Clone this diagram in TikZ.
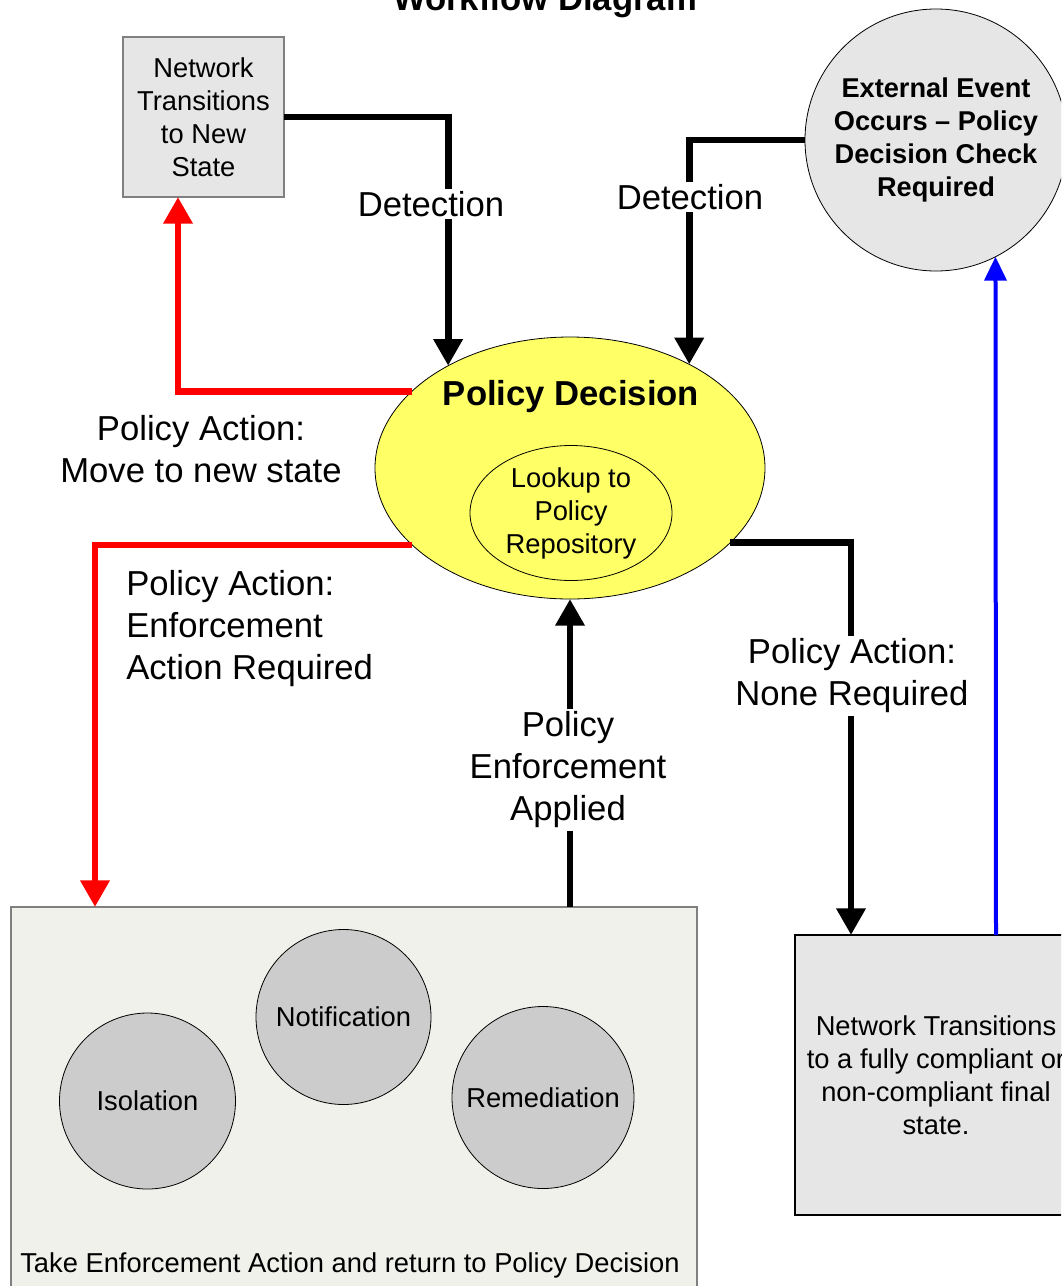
\documentclass[tikz,border=0pt]{standalone}
\usepackage{fontspec}
\setmainfont{Liberation Sans}
\usetikzlibrary{arrows.meta,shapes.geometric,calc}

\definecolor{boxgray}{HTML}{E6E6E6}
\definecolor{circgray}{HTML}{CCCCCC}
\definecolor{pdyellow}{HTML}{FFFF66}
\definecolor{actbg}{HTML}{F1F1EB}
\definecolor{edgegray}{HTML}{808080}

\tikzset{
  body/.style={font=\fontsize{20.5}{24.75}\selectfont, align=center},
  bodybold/.style={font=\bfseries\fontsize{20.4}{24.75}\selectfont, align=center},
  lbl/.style={font=\fontsize{26}{31.5}\selectfont, align=center, fill=white, inner sep=2pt},
  statebox/.style={rectangle, draw=edgegray, line width=0.8pt, fill=boxgray,
    inner sep=0pt, outer sep=0pt, body},
  actcircle/.style={circle, draw=black, line width=0.6pt, fill=circgray,
    inner sep=0pt, outer sep=0pt, body},
  flow/.style={line width=5.2pt, black, -{Triangle[length=20pt,width=21pt]}},
  redflow/.style={flow, red},
  blueflow/.style={line width=3pt, blue, -{Triangle[length=18pt,width=16.5pt]}},
}

\begin{document}
\begin{tikzpicture}[x=0.75pt, y=-0.75pt]
  \useasboundingbox (0,0) rectangle (1061,1286);
  \clip (0,0) rectangle (1061,1286);

  % title
  \node[font=\bfseries\fontsize{26}{31}\selectfont, anchor=base] (title) at (545,10) {Workflow Diagram};

  % states
  \node[statebox, minimum width=120.75pt, minimum height=120pt] (tl) at (203.5,117)
    {Network\\Transitions\\to New\\State};
  \node[circle, draw=black, line width=0.6pt, fill=boxgray, inner sep=0pt, outer sep=0pt,
    minimum size=196.5pt, bodybold] (ext) at (936,140)
    {External Event\\Occurs -- Policy\\Decision Check\\Required};
  \node[statebox, draw=black, minimum width=211.5pt, minimum height=210pt] (fb) at (936,1075)
    {Network Transitions\\to a fully compliant or\\non-compliant final\\state.};

  % policy decision
  \node[ellipse, draw=black, line width=0.6pt, fill=pdyellow, inner sep=0pt, outer sep=0pt,
    minimum width=292.5pt, minimum height=196.5pt] (pd) at (570,468) {};
  \node[font=\bfseries\fontsize{26}{31}\selectfont] (pdtitle) at (571,397) {Policy Decision};
  \node[ellipse, draw=black, line width=0.6pt, fill=pdyellow, inner sep=0pt, outer sep=0pt,
    minimum width=151.5pt, minimum height=101.25pt, body] (lookup) at (571,513)
    {Lookup to\\Policy\\Repository};

  % enforcement actions
  \node[rectangle, draw=edgegray, line width=0.8pt, fill=actbg, inner sep=0pt, outer sep=0pt,
    minimum width=514.5pt, minimum height=291.75pt] (eb) at (354,1101.5) {};
  \node[actcircle, minimum size=132pt] (iso) at (147.5,1101) {Isolation};
  \node[actcircle, minimum size=131.25pt] (notif) at (343.5,1017) {Notification};
  \node[actcircle, minimum size=136.5pt] (remed) at (543,1097.5) {Remediation};
  \node[body, anchor=west, inner sep=0pt] (ebtext) at (20,1265)
    {Take Enforcement Action and return to Policy Decision};

  % connectors
  \draw[flow] (tl.east) -| (pd.140.1);
  \draw[flow] (ext.west) -| (pd.41.5);
  \draw[redflow] (pd.154.4) -| ($(tl.south)+(-25.5,0)$);
  \draw[redflow] (pd.206.3) -| ($(eb.north west)+(84,0)$);
  \draw[flow] (pd.335.5) -| ($(fb.north west)+(56,0)$);
  \draw[flow] (pd.south |- eb.north) -- (pd.south);
  \draw[blueflow] ($(fb.north west)+(201,0)$) -- (ext.297.3);

  % connector labels
  \node[lbl] (det1) at (431,204) {Detection};
  \node[lbl] (det2) at (690,197) {Detection};
  \node[lbl] (none) at (852,676) {Policy Action:\\None Required};
  \node[lbl] (applied) at (568,770) {Policy\\Enforcement\\Applied};
  \node[lbl] (move) at (201,449) {Policy Action:\\Move to new state};
  \node[lbl, align=left, anchor=west, inner sep=0pt] (enf) at (126,629)
    {Policy Action:\\Enforcement\\Action Required};
\end{tikzpicture}
\end{document}
